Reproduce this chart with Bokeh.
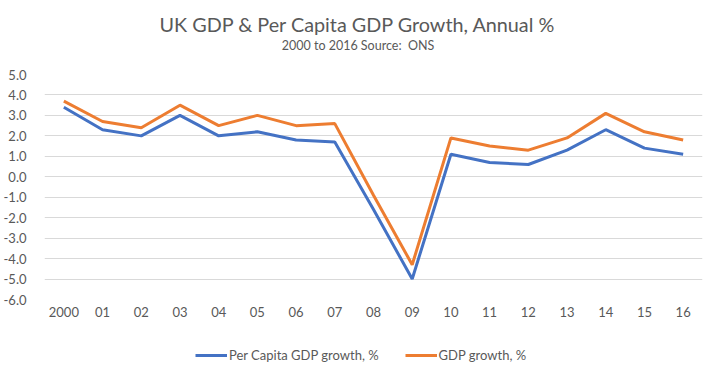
from bokeh.plotting import figure
from bokeh.layouts import column
from bokeh.models import (ColumnDataSource, FactorRange, Range1d, FixedTicker,
                          NumeralTickFormatter, Legend, LegendItem, Title)
from bokeh.embed import file_html
from bokeh.resources import INLINE

# ---- data ----
years = ["2000", "01", "02", "03", "04", "05", "06", "07", "08",
         "09", "10", "11", "12", "13", "14", "15", "16"]
per_capita_growth = [3.4, 2.3, 2.0, 3.0, 2.0, 2.2, 1.8, 1.7, -1.6,
                     -5.0, 1.1, 0.7, 0.6, 1.3, 2.3, 1.4, 1.1]
gdp_growth = [3.7, 2.7, 2.4, 3.5, 2.5, 3.0, 2.5, 2.6, -0.9,
              -4.3, 1.9, 1.5, 1.3, 1.9, 3.1, 2.2, 1.8]
y_ticks = [-6, -5, -4, -3, -2, -1, 0, 1, 2, 3, 4, 5]

title_text = "UK GDP & Per Capita GDP Growth, Annual %"
subtitle_text = "2000 to 2016 Source:\u00a0 ONS"
series_names = ["Per Capita GDP growth, %", "GDP growth, %"]
series_colors = ["#4472C4", "#ED7D31"]

FONT = "Lato"
TXT = "#595959"

src = ColumnDataSource(dict(year=years, pc=per_capita_growth, gdp=gdp_growth))


def blank_strip(height, **kw):
    f = figure(width=715, height=height, output_backend="svg", toolbar_location=None,
               x_axis_location=None, y_axis_location=None,
               x_range=FactorRange(factors=years), y_range=Range1d(10, 11),
               min_border_left=0, min_border_right=0, frame_align=False, **kw)
    f.outline_line_color = None
    f.border_fill_color = "white"
    f.background_fill_color = "white"
    f.grid.visible = False
    return f


# ---- title strip (title sits at the strip's bottom) ----
head = blank_strip(37, min_border_top=0, min_border_bottom=0)
head.add_layout(Title(text=title_text, align="center", text_font=FONT,
                      text_font_size="19.8px", text_font_style="normal",
                      text_color=TXT, standoff=3, vertical_align="bottom"), "below")

# ---- subtitle strip (subtitle sits at the strip's top) ----
subh = blank_strip(27, min_border_top=0, min_border_bottom=0)
subh.add_layout(Title(text=subtitle_text, align="center", text_font=FONT,
                      text_font_size="12.5px", text_font_style="normal",
                      text_color=TXT, standoff=1, vertical_align="top"), "above")

# ---- main chart ----
p = figure(width=715, height=266, output_backend="svg", toolbar_location=None,
           x_range=FactorRange(factors=years), y_range=Range1d(min(y_ticks), max(y_ticks)),
           min_border_left=44, min_border_right=13,
           min_border_top=10, min_border_bottom=31)
p.outline_line_color = None
p.background_fill_color = "white"
p.border_fill_color = "white"

p.line("year", "pc", source=src, line_color=series_colors[0], line_width=3)
p.line("year", "gdp", source=src, line_color=series_colors[1], line_width=3)

p.yaxis.ticker = FixedTicker(ticks=y_ticks)
p.yaxis.formatter = NumeralTickFormatter(format="0.0")
for ax in (p.xaxis, p.yaxis):
    ax.axis_line_color = None
    ax.major_tick_line_color = None
    ax.minor_tick_line_color = None
    ax.major_label_text_font = FONT
    ax.major_label_text_font_size = "13px"
    ax.major_label_text_color = TXT
p.yaxis.major_label_standoff = 12
p.xaxis.major_label_standoff = 1

p.xgrid.grid_line_color = None
p.ygrid.grid_line_color = "#D9D9D9"
p.ygrid.grid_line_width = 1

# ---- legend strip (series drawn out of view, only their legend keys show) ----
lg = blank_strip(45, min_border_top=0, min_border_bottom=0)
k1 = lg.line("year", "pc", source=src, line_color=series_colors[0], line_width=3)
k2 = lg.line("year", "gdp", source=src, line_color=series_colors[1], line_width=3)
legend = Legend(items=[LegendItem(label=series_names[0], renderers=[k1]),
                       LegendItem(label=series_names[1], renderers=[k2])],
                orientation="horizontal", location=(195, 12),
                label_text_font=FONT, label_text_font_size="13px", label_text_color=TXT,
                glyph_width=32, glyph_height=14, label_standoff=2, spacing=26,
                border_line_color=None, background_fill_alpha=0,
                padding=0, margin=0)
lg.add_layout(legend, "center")

layout = column(head, subh, p, lg, spacing=0)
open("out.html", "w").write(file_html(layout, INLINE))
